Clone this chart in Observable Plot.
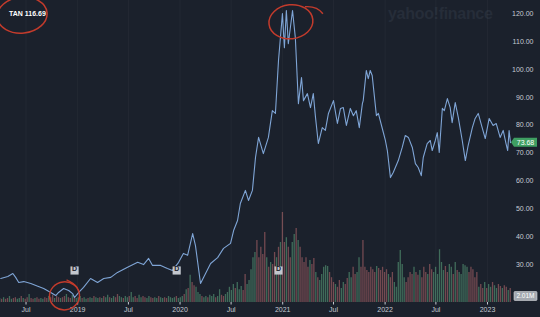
<!DOCTYPE html>
<html><head><meta charset="utf-8">
<script src="https://cdn.jsdelivr.net/npm/d3@7"></script>
<script src="https://cdn.jsdelivr.net/npm/@observablehq/plot@0.6"></script>
<style>
html,body{margin:0;padding:0;background:#1b212c;}
#wrap{position:relative;width:540px;height:317px;overflow:hidden;background:#1b212c;font-family:"Liberation Sans",Arial,sans-serif;}
#wrap svg{position:absolute;left:0;top:0;}
#title{position:absolute;left:9px;top:10px;color:#fff;font-size:7px;font-weight:bold;z-index:5;}
#wm{position:absolute;left:388px;top:5px;color:#262d39;font-size:16px;font-weight:bold;letter-spacing:-0.3px;}
</style></head>
<body><div id="wrap"><div id="wm">yahoo!finance</div><div id="title">TAN 116.69</div></div>
<script>
const ticker = "TAN";
const priceDates = ["2018-04-02","2018-04-27","2018-05-15","2018-05-25","2018-06-05","2018-06-23","2018-07-18","2018-08-12","2018-09-02","2018-09-27","2018-10-15","2018-10-25","2018-11-12","2018-11-30","2018-12-14","2018-12-21","2019-01-05","2019-01-22","2019-02-16","2019-03-13","2019-04-04","2019-04-29","2019-05-23","2019-06-28","2019-08-03","2019-08-24","2019-09-11","2019-09-25","2019-10-24","2019-11-17","2019-12-05","2019-12-27","2020-01-13","2020-01-28","2020-02-15","2020-02-25","2020-03-14","2020-04-01","2020-04-19","2020-05-14","2020-06-04","2020-06-29","2020-07-10","2020-07-24","2020-08-03","2020-08-21","2020-09-01","2020-09-15","2020-09-26","2020-10-07","2020-10-24","2020-11-11","2020-11-25","2020-12-06","2020-12-17","2020-12-31","2021-01-07","2021-01-14","2021-01-21","2021-02-05","2021-02-15","2021-02-26","2021-03-09","2021-03-16","2021-03-30","2021-04-10","2021-04-20","2021-04-28","2021-05-08","2021-05-22","2021-06-02","2021-06-13","2021-07-01","2021-07-15","2021-07-26","2021-08-05","2021-08-16","2021-08-30","2021-09-10","2021-09-20","2021-10-01","2021-10-12","2021-10-15","2021-10-26","2021-11-02","2021-11-09","2021-11-16","2021-12-01","2021-12-08","2021-12-22","2022-01-02","2022-01-09","2022-01-20","2022-01-30","2022-02-17","2022-03-03","2022-03-14","2022-03-25","2022-04-08","2022-04-19","2022-04-29","2022-05-10","2022-05-17","2022-05-31","2022-06-11","2022-06-18","2022-06-29","2022-07-06","2022-07-13","2022-07-24","2022-07-31","2022-08-11","2022-08-21","2022-08-28","2022-09-08","2022-09-19","2022-10-03","2022-10-14","2022-10-24","2022-11-08","2022-11-18","2022-11-29","2022-12-13","2022-12-24","2023-01-07","2023-01-21","2023-02-01","2023-02-15","2023-02-26","2023-03-08","2023-03-14","2023-03-19","2023-03-24"];
const priceValues = [25.0,25.7,26.8,25.4,23.6,23.9,23.2,22.2,21.4,20.0,18.9,20.0,21.4,20.7,19.6,18.2,20.0,21.8,25.0,23.6,25.0,25.4,27.2,29.0,30.8,30.0,32.2,29.7,29.7,28.6,27.9,30.8,34.0,33.3,41.1,36.8,23.2,26.8,30.4,32.5,35.8,37.6,42.2,45.8,51.9,56.6,53.0,56.6,68.4,75.6,69.8,75.6,85.2,84.2,103.2,120.0,107.8,121.1,109.2,121.1,111.4,87.7,97.1,88.8,91.3,86.3,91.3,82.7,73.4,79.1,78.1,84.2,88.8,80.6,86.0,86.3,79.9,86.0,83.4,85.2,79.1,87.7,88.8,99.6,96.7,99.6,97.8,83.4,84.2,78.8,74.5,70.9,61.2,63.0,67.3,72.0,76.3,75.6,72.0,66.2,64.8,61.9,68.4,73.4,74.5,70.9,74.5,77.3,70.2,86.0,85.2,89.5,86.3,80.9,88.1,82.7,74.5,67.3,72.7,79.1,82.4,84.2,79.1,75.2,82.4,79.9,80.6,75.6,78.1,73.4,70.9,78.1,73.68];
// weekly volume (millions), first week starting 2018-03-29
const volStart = "2018-03-29";
const volumeM = [
1.0,0.8,1.2,0.8,1.0,1.5,0.8,1.0,1.2,0.8,1.0,1.5,1.0,
0.8,1.2,2.0,1.0,0.8,1.0,1.2,0.8,1.0,0.8,1.2,1.0,1.5,
1.2,1.8,1.0,1.5,1.2,1.0,1.2,1.5,2.0,1.2,1.0,1.8,1.5,
1.0,1.2,1.5,1.0,1.2,0.8,1.0,1.2,1.0,1.5,1.2,1.0,1.2,
1.0,1.5,1.2,1.8,1.2,1.0,1.5,1.2,2.0,1.5,1.2,1.0,1.5,
1.2,1.5,2.5,1.2,1.5,1.0,1.8,1.2,1.5,1.2,1.0,1.5,1.2,
1.0,1.2,1.0,1.5,1.2,1.0,1.2,1.0,1.5,1.2,1.0,1.2,1.5,
1.0,1.2,1.5,2.0,3.2,3.5,6.8,5.0,4.2,3.8,2.5,2.0,1.5,
1.2,1.5,1.2,1.8,1.5,2.0,1.2,1.5,3.2,1.8,1.5,2.0,2.5,
3.8,3.0,4.5,3.5,5.0,3.2,4.0,3.0,7.0,4.5,5.5,8.2,11.2,
12.5,15.5,11.2,13.8,12.0,17.5,11.2,8.8,10.0,9.5,12.5,11.2,13.8,
15.0,22.5,15.0,16.2,13.8,11.2,15.0,17.0,18.5,15.5,13.8,11.2,10.0,
11.2,8.8,10.5,9.5,11.0,7.5,6.2,5.5,7.0,8.8,9.2,9.0,7.5,
6.2,5.0,4.5,3.8,5.5,3.5,5.0,4.5,6.0,7.5,6.2,8.8,7.0,
7.5,11.2,8.8,15.5,8.8,8.0,7.5,8.8,8.2,7.5,9.0,8.5,8.0,
8.8,7.5,8.2,7.0,6.2,7.5,5.0,3.8,10.0,13.0,9.5,6.2,5.0,
6.2,7.5,7.0,8.8,7.5,6.8,8.0,6.2,8.8,7.5,7.0,9.5,8.2,
7.5,8.8,7.0,13.2,10.0,8.0,9.0,7.5,9.5,8.8,7.0,10.0,8.0,
7.5,7.0,9.5,9.2,8.8,7.5,8.8,8.2,6.2,7.5,3.8,4.5,3.5,
5.0,3.5,4.5,3.8,5.0,4.2,3.5,4.5,4.0,3.5,4.2,3.8,3.0,3.5];
const volumeDir = "ududduudduudu"+"dduddudduuddu"+"dduddudduddud"+"uuuduuduuduud"+"uduuduudduudu"+"uduudduudduud"+"duuduudduuuud"+"uuudududduuud"+"uuduuuduudduu"+"uuuduuudduuuu"+"udddddududdud"+"uddudduududdd"+"ddudduduuuuud"+"ddudduudduudd"+"uuddddddddudd"+"dddudduuuuuud"+"ddduddudddudd"+"uuuuuudduudud"+"uuuuudddddudd"+"uduuduudduddud";
const dividendDates = ["2018-12-21","2019-12-20","2020-12-17"];
const yTicks = [30,40,50,60,70,80,90,100,110,120];
const xTicks = ["2018-07-01","2019-01-01","2019-07-01","2020-01-01","2020-07-01","2021-01-01","2021-07-01","2022-01-01","2022-07-01","2023-01-01"];
const xTickLabels = ["Jul","2019","Jul","2020","Jul","2021","Jul","2022","Jul","2023"];
const lastPrice = 73.68;
const lastVolumeLabel = "2.01M";
const annotations = [
  {date:"2018-06-19", value:119.3, rx:25, ry:18},
  {date:"2021-02-01", value:116.9, rx:22, ry:17},
  {date:"2018-11-17", value:18.6, rx:15, ry:14}
];

const W = 540, H = 317;
const mL = 0, mR = 30, mT = 0, mB = 15;
const xDomain = [new Date("2018-04-01"), new Date("2023-03-24")];
const prices = priceDates.map((d,i)=>({date:new Date(d), value:priceValues[i]}));
const start = new Date(volStart);
const vols = volumeM.map((v,i)=>({date:d3.utcDay.offset(start, 7*i), v, up: volumeDir[i]==="u"}));
const xT = xTicks.map(d=>new Date(d));
const labelMap = new Map(xT.map((d,i)=>[+d, xTickLabels[i]]));
const font = "'Liberation Sans', Arial, sans-serif";
const wrap = document.getElementById("wrap");

const volPlot = Plot.plot({
  width: W, height: H, marginLeft: mL, marginRight: mR, marginTop: mT, marginBottom: mB,
  style: {background:"transparent", fontFamily: font},
  x: {type:"utc", domain:xDomain, axis:null},
  y: {domain:[0, 75.5], axis:null},
  marks: [
    Plot.ruleX(vols.filter(d=>d.up), {x:"date", y1:0, y2:"v", stroke:"#4a7f66", strokeWidth:1.3, strokeOpacity:0.8}),
    Plot.ruleX(vols.filter(d=>!d.up), {x:"date", y1:0, y2:"v", stroke:"#8a545a", strokeWidth:1.3, strokeOpacity:0.8})
  ]
});
wrap.insertBefore(volPlot, wrap.firstChild);

const pricePlot = Plot.plot({
  width: W, height: H, marginLeft: mL, marginRight: mR, marginTop: mT, marginBottom: mB,
  style: {background:"transparent", color:"#c5cbd3", fontFamily: font, fontSize:"7px"},
  x: {type:"utc", domain:xDomain, label:null},
  y: {domain:[16.4, 124.7], label:null},
  marks: [
    Plot.gridX(xT, {stroke:"#ffffff", strokeOpacity:0.035}),
    Plot.line(prices, {x:"date", y:"value", stroke:"#7fa5d6", strokeWidth:1.1}),
    Plot.axisY(yTicks, {anchor:"right", label:null, tickSize:0, tickPadding:23, textAnchor:"end", tickFormat:d=>d.toFixed(2), fontSize:7}),
    Plot.axisX(xT, {anchor:"bottom", label:null, tickSize:2.5, tickPadding:2, tickFormat:d=>labelMap.get(+d), fontSize:7}),
    Plot.dot(dividendDates.map(d=>new Date(d)), {x:d=>d, frameAnchor:"bottom", dy:-32, symbol:"square", r:4.6, fill:"#c3c7ce"}),
    Plot.text(dividendDates.map(d=>new Date(d)), {x:d=>d, frameAnchor:"bottom", dy:-32, text:()=>"D", fill:"#1b212c", fontWeight:"bold", fontSize:7})
  ]
});
wrap.appendChild(pricePlot);

function scaleFn(plot, name){
  const s = plot.scale(name);
  if (s.apply) return v=>s.apply(v);
  const f = (s.type==="utc"?d3.scaleUtc():d3.scaleLinear()).domain(s.domain).range(s.range);
  return f;
}
const xs = scaleFn(pricePlot, "x"), ys = scaleFn(pricePlot, "y");
const vys = scaleFn(volPlot, "y");
const svg = d3.select(pricePlot);

// last price box
const py = ys(lastPrice);
const gx = W - mR;
svg.append("path").attr("d", `M${gx+1},${py} L${gx+4},${py-4.5} L${gx+27},${py-4.5} L${gx+27},${py+4.5} L${gx+4},${py+4.5} Z`).attr("fill","#3f9f62");
svg.append("text").attr("x", gx+15.5).attr("y", py).attr("dy","0.35em").attr("text-anchor","middle").attr("fill","#fff").attr("font-size",7).text(lastPrice.toFixed(2));

// volume box
const vy = vys(1.5);
svg.append("rect").attr("x", gx+4).attr("y", vy-4.5).attr("width", 23).attr("height", 9).attr("rx",1).attr("fill","#a4a9b0").attr("stroke","#d6d9de").attr("stroke-width",0.6);
svg.append("text").attr("x", gx+15.5).attr("y", vy).attr("dy","0.35em").attr("text-anchor","middle").attr("fill","#fff").attr("font-size",6.5).text(lastVolumeLabel);

// hand-drawn annotation ellipses
annotations.forEach((a,i)=>{
  const cx = xs(new Date(a.date)), cy = ys(a.value);
  svg.append("ellipse").attr("cx",cx).attr("cy",cy).attr("rx",a.rx).attr("ry",a.ry)
    .attr("fill","none").attr("stroke","#c23b2c").attr("stroke-width",1.5).attr("transform",`rotate(-6 ${cx} ${cy})`);
  if (i===1) svg.append("path").attr("d",`M${cx+14},${cy-15} Q${cx+26},${cy-16} ${cx+32},${cy-8}`).attr("fill","none").attr("stroke","#c23b2c").attr("stroke-width",1.4);
  if (i===2) svg.append("path").attr("d",`M${cx+2},${cy-16} Q${cx+9},${cy-13} ${cx+13},${cy-8}`).attr("fill","none").attr("stroke","#c23b2c").attr("stroke-width",1.4);
});
</script>
</body></html>
